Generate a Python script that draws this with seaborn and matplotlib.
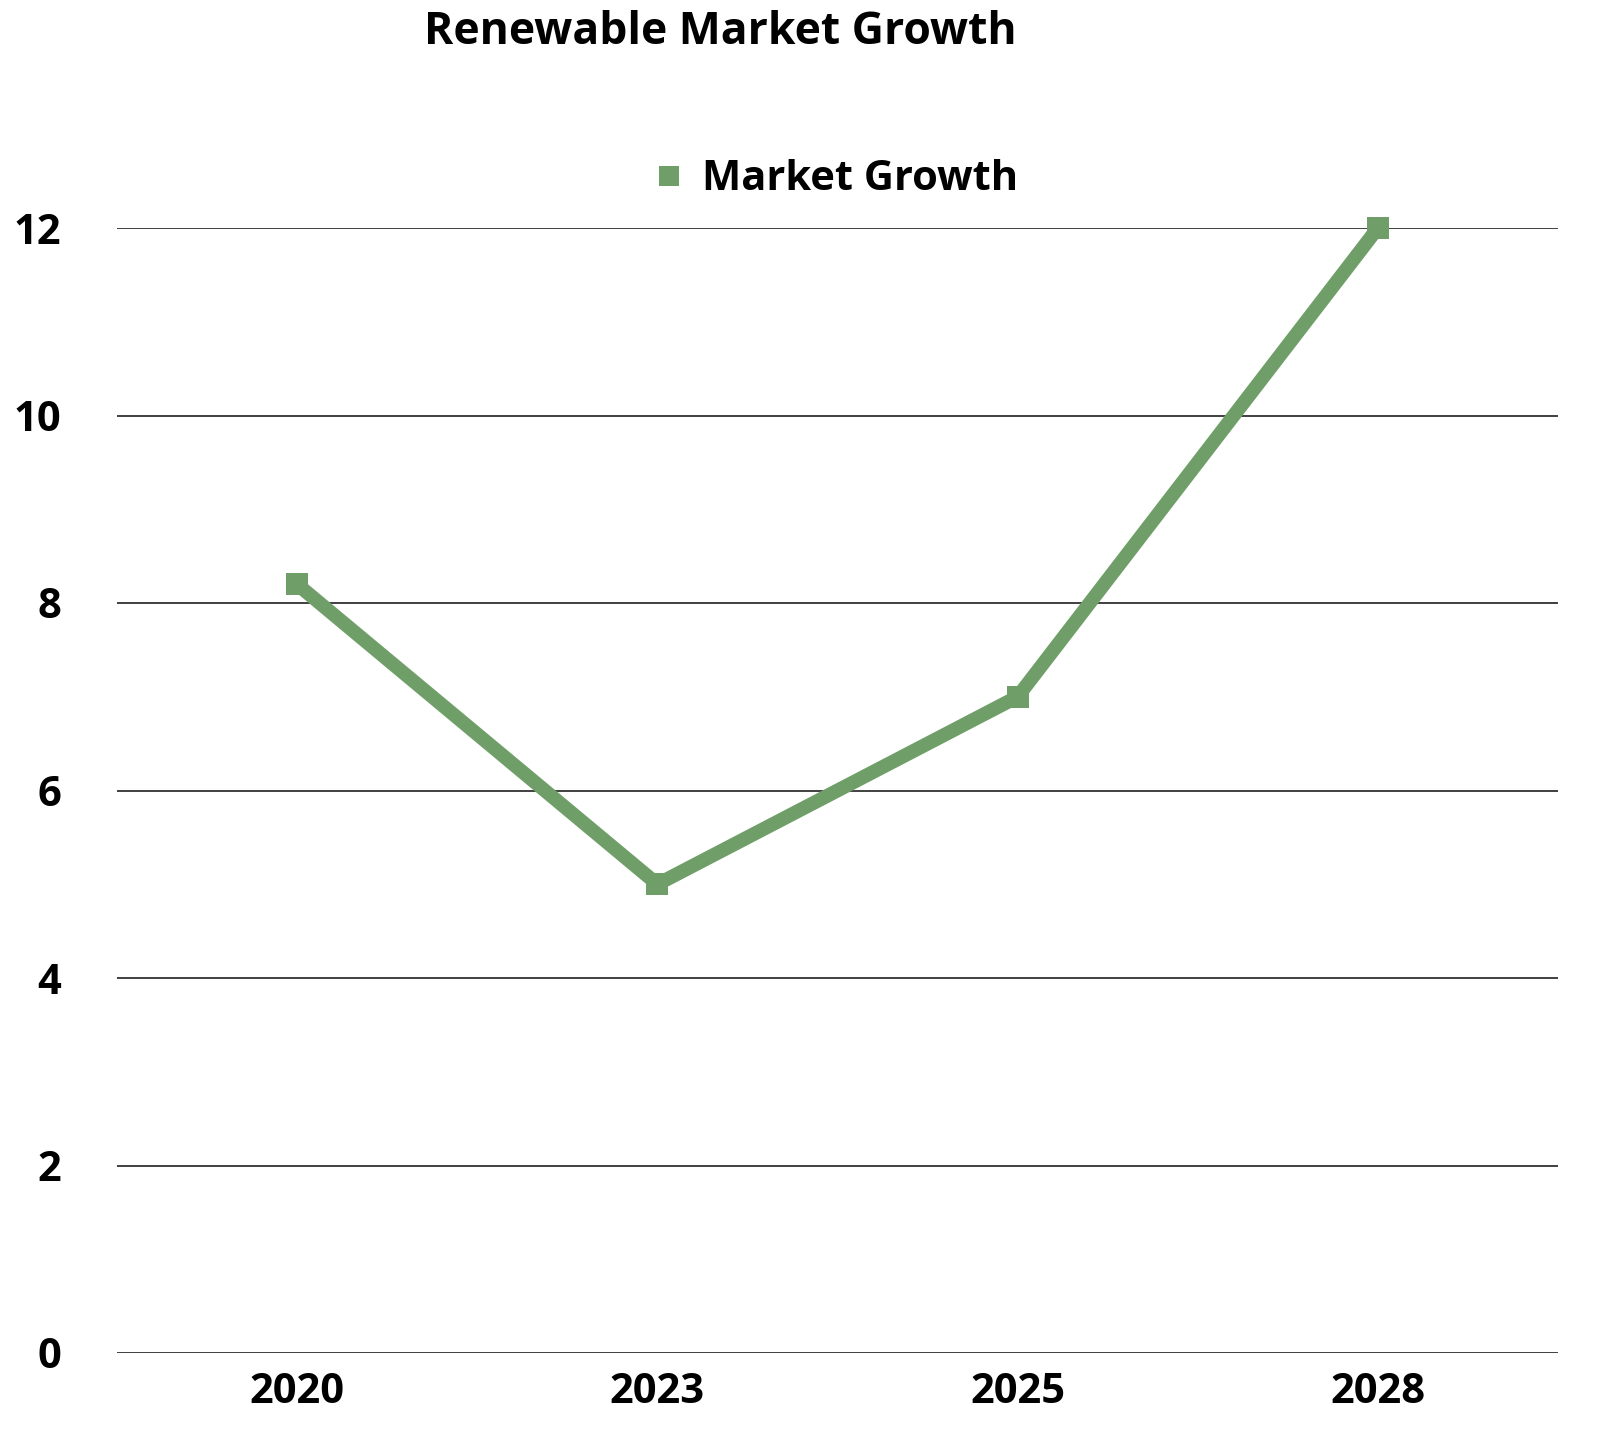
import matplotlib
matplotlib.use("Agg")
import matplotlib.pyplot as plt
import seaborn as sns
import pandas as pd

years = ["2020", "2023", "2025", "2028"]
growth = [8.2, 5.0, 7.0, 12.0]
y_ticks = [0, 2, 4, 6, 8, 10, 12]
title = "Renewable Market Growth"
series_name = "Market Growth"

sns.set_theme(style="white")
plt.rcParams['font.family'] = ['Open Sans', 'DejaVu Sans']

df = pd.DataFrame({"Year": years, "Growth": growth})
color = "#6f9e68"

fig = plt.figure(figsize=(16.11, 14.5), dpi=100)
ax = fig.add_axes([117/1611, 1 - 1353/1450, (1558-117)/1611, (1353-228)/1450])

sns.lineplot(data=df, x="Year", y="Growth", ax=ax, color=color, linewidth=10,
             marker="s", markersize=16, markeredgewidth=0, label=series_name,
             sort=False)
for ln in ax.lines:
    ln.set_clip_on(False)

ax.set_ylim(0, 12)
ax.set_xlim(-0.5, 3.5)
ax.set_yticks(y_ticks)
ax.set_yticklabels([str(t) for t in y_ticks])
ax.grid(axis="y", color="#404040", linewidth=1.4)
ax.grid(axis="x", visible=False)
ax.set_axisbelow(True)
for s in ax.spines.values():
    s.set_visible(False)
ax.tick_params(axis="both", length=0, labelsize=30, colors="black")
ax.tick_params(axis="y", pad=40)
ax.tick_params(axis="x", pad=14)
for lab in ax.get_xticklabels() + ax.get_yticklabels():
    lab.set_fontweight("bold")
ax.set_xlabel("")
ax.set_ylabel("")

leg = ax.legend(loc="center", bbox_to_anchor=(0.5, 1 + (228-180)/(1353-228)),
                frameon=False, prop={"size": 30, "weight": "bold"},
                handlelength=0.6, handletextpad=0.5, labelcolor="black")
for h in leg.legend_handles:
    h.set_linewidth(0)
    h.set_markersize(14)

fig.text(720/1611, 1 - 33/1450, title, ha="center", va="center",
         fontsize=32, fontweight="bold", color="black")

fig.savefig("out.png", dpi=100)
